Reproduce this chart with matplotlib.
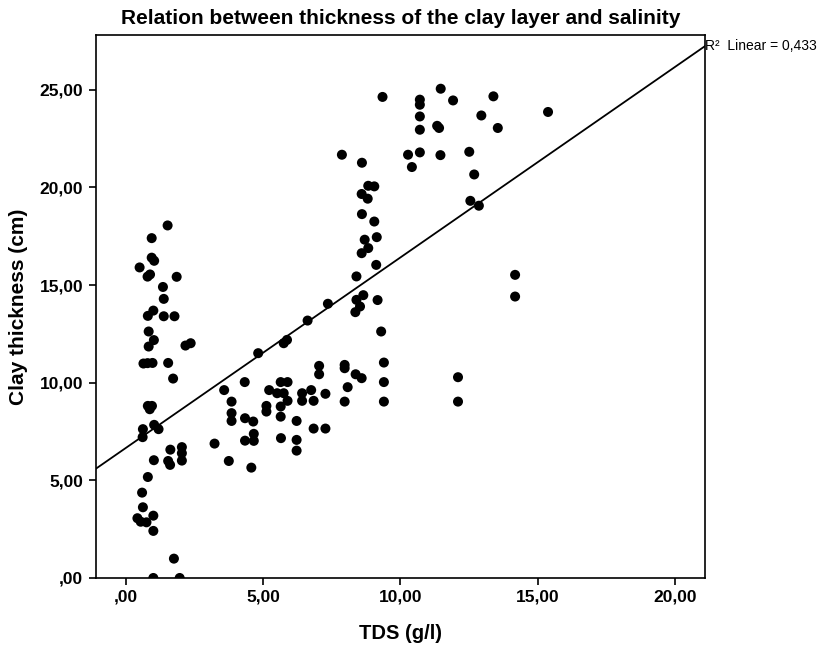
import matplotlib
matplotlib.use("Agg")
import matplotlib.pyplot as plt
import numpy as np

plt.rcParams['font.family'] = ['Liberation Sans', 'DejaVu Sans']

# TDS (g/l)
tds = [
    1.52, 0.94, 0.94, 1.03, 0.50, 0.79, 0.88, 1.85, 1.35, 1.38,
    0.80, 1.00, 1.38, 1.77, 0.83, 1.02, 0.83, 2.17, 2.36, 0.64,
    0.79, 0.97, 1.54, 1.72, 0.80, 0.95, 0.87, 1.03, 1.19, 0.62,
    0.61, 1.62, 1.54, 1.61, 2.04, 2.04, 2.04, 1.02, 0.80, 0.59,
    0.62, 0.42, 0.54, 0.75, 1.00, 1.00, 1.75, 1.00, 1.96, 3.23,
    3.75, 4.82, 5.75, 5.87, 4.33, 3.58, 3.85, 3.85, 3.85, 4.57,
    4.34, 4.64, 4.66, 4.34, 4.66, 5.22, 5.12, 5.12, 5.64, 5.89,
    5.51, 5.75, 5.89, 5.64, 5.64, 6.22, 5.65, 6.22, 6.22, 6.42,
    6.42, 6.75, 6.84, 7.27, 6.84, 7.27, 7.04, 7.04, 7.97, 7.97,
    8.08, 7.97, 6.62, 7.36, 9.30, 9.40, 9.40, 9.40, 8.37, 8.59,
    12.10, 12.10, 7.87, 8.60, 8.83, 9.05, 8.59, 8.81, 8.60, 9.05,
    8.70, 9.14, 8.83, 8.59, 9.12, 8.40, 8.65, 8.40, 8.53, 8.36,
    9.17, 10.28, 10.71, 10.42, 10.71, 11.47, 10.71, 10.71, 11.92, 13.39,
    10.71, 11.34, 11.41, 12.95, 13.55, 15.38, 11.46, 12.51, 12.69, 12.55,
    12.86, 9.35, 14.18, 14.18,
]
# Clay thickness (cm)
clay = [
    18.05, 17.40, 16.40, 16.24, 15.90, 15.43, 15.54, 15.42, 14.90, 14.29,
    13.42, 13.69, 13.40, 13.40, 12.62, 12.18, 11.85, 11.90, 12.02, 10.98,
    11.00, 11.01, 11.01, 10.21, 8.81, 8.81, 8.64, 7.84, 7.62, 7.62,
    7.21, 6.57, 5.99, 5.79, 6.70, 6.39, 6.01, 6.03, 5.17, 4.37,
    3.62, 3.06, 2.88, 2.85, 3.19, 2.41, 0.99, 0.00, 0.00, 6.88,
    5.99, 11.51, 12.02, 12.19, 10.03, 9.62, 9.03, 8.44, 8.04, 5.65,
    8.18, 8.01, 7.38, 7.03, 7.02, 9.62, 8.81, 8.52, 10.03, 10.03,
    9.46, 9.46, 9.07, 8.78, 8.26, 8.04, 7.16, 7.07, 6.52, 9.46,
    9.07, 9.62, 9.07, 9.43, 7.65, 7.65, 10.86, 10.43, 10.91, 10.74,
    9.77, 9.03, 13.18, 14.04, 12.62, 11.03, 10.03, 9.03, 10.43, 10.23,
    10.28, 9.03, 21.67, 21.26, 20.08, 20.05, 19.66, 19.42, 18.63, 18.25,
    17.32, 17.45, 16.89, 16.63, 16.03, 15.44, 14.48, 14.24, 13.90, 13.61,
    14.23, 21.67, 21.79, 21.04, 22.95, 25.05, 24.49, 24.23, 24.45, 24.66,
    23.63, 23.15, 23.04, 23.68, 23.04, 23.86, 21.65, 21.82, 20.66, 19.31,
    19.06, 24.63, 15.52, 14.41,
]

# Linear fit line as shown (intercept, slope) and R²
fit_intercept = 6.66
fit_slope = 0.975
r2_label = "R\u00b2  Linear = 0,433"

x_ticks = [0, 5, 10, 15, 20]
y_ticks = [0, 5, 10, 15, 20, 25]


def fmt(v):
    s = f"{v:.2f}".replace('.', ',')
    if s.startswith('0,'):
        s = s[1:]
    return s


fig = plt.figure(figsize=(8.2, 6.46), dpi=100)
ax = fig.add_axes([0.1167, 0.1053, 0.7431, 0.8405])

xlim = (-1.1, 21.1)
ylim = (0, 27.8)

ax.scatter(tds, clay, s=52, color='black', edgecolors='none', zorder=3, clip_on=True)

xs = np.array(xlim)
ax.plot(xs, fit_intercept + fit_slope * xs, color='black', lw=1.3, zorder=2)

ax.set_xlim(*xlim)
ax.set_ylim(*ylim)
ax.set_xticks(x_ticks)
ax.set_yticks(y_ticks)
ax.set_xticklabels([fmt(v) for v in x_ticks], fontsize=12.5, fontweight='bold')
ax.set_yticklabels([fmt(v) for v in y_ticks], fontsize=12.5, fontweight='bold')
ax.tick_params(axis='y', direction='out', length=5, width=1.2, colors='black', pad=4)
ax.tick_params(axis='x', direction='out', length=5, width=1.2, colors='black', pad=3)
for sp in ax.spines.values():
    sp.set_linewidth(1.2)

ax.set_xlabel("TDS (g/l)", fontsize=14.5, fontweight='bold', labelpad=14)
ax.set_ylabel("Clay thickness (cm)", fontsize=15, fontweight='bold', labelpad=8)
ax.set_title("Relation between thickness of the clay layer and salinity",
             fontsize=15, fontweight='bold', pad=8)

y_end = fit_intercept + fit_slope * xlim[1]
ax.text(xlim[1], y_end, r2_label, fontsize=10, ha='left', va='center', clip_on=False)

fig.savefig("out.png", dpi=100)
